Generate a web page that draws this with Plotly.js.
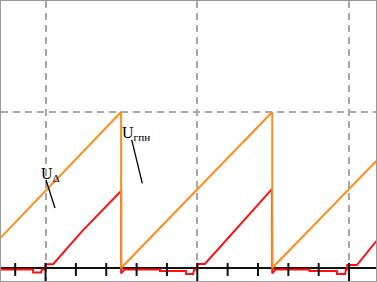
<!DOCTYPE html>
<html><head><meta charset="utf-8">
<script src="https://cdn.plot.ly/plotly-3.0.1.min.js"></script>
<style>html,body{margin:0;padding:0;background:#fff}</style>
</head><body><div id="chart" style="width:377px;height:282px"></div>
<script>
// time in tick units, value relative to ramp peak
const orangeT = [-0.5, 3.49, 3.49, 8.47, 8.47, 11.9];
const orangeV = [0.19, 1.0, 0.0, 1.0, 0.0, 0.686];

const redT = [-0.5, 0.59, 0.59, 0.85, 0.88, 1.0, 1.0, 1.25, 2.2, 3.49, 3.49, 3.6, 4.77, 4.77, 5.63, 5.63, 5.86, 5.9, 6.0, 6.0, 6.25, 7.2, 8.46, 8.47, 8.57, 9.7, 9.7, 10.6, 10.6, 10.87, 10.9, 10.94, 10.94, 11.26, 11.9];
const redV = [-0.01, -0.01, -0.029, -0.029, -0.01, -0.01, 0.024, 0.024, 0.235, 0.494, -0.035, -0.01, -0.01, -0.019, -0.019, -0.038, -0.038, -0.01, -0.01, 0.026, 0.026, 0.235, 0.506, -0.035, -0.01, -0.01, -0.019, -0.019, -0.038, -0.038, -0.01, -0.01, 0.019, 0.019, 0.173];

const minorTicks = [0, 2, 3, 4, 5, 7, 8, 9, 10];
const majorTicks = [1, 6, 11];
const gridX = [1, 6, 11];
const gridY = [1];

const labelD = "U<sub>Δ</sub>";
const labelG = "U<sub>гпн</sub>";

function segs(xs, y0, y1) {
  const X = [], Y = [];
  xs.forEach(x => { X.push(x, x, null); Y.push(y0, y1, null); });
  return {X, Y};
}
const mn = segs(minorTicks, 0.032, -0.051);
const mj = segs(majorTicks, 0.032, -0.1);

const traces = [
  {x: redT, y: redV, mode: 'lines', line: {color: '#ff1010', width: 2}, hoverinfo: 'skip'},
  {x: orangeT, y: orangeV, mode: 'lines', line: {color: '#ff8c1a', width: 2}, hoverinfo: 'skip'},
  {x: mn.X, y: mn.Y, mode: 'lines', line: {color: '#111', width: 2}, hoverinfo: 'skip'},
  {x: mj.X, y: mj.Y, mode: 'lines', line: {color: '#111', width: 2}, hoverinfo: 'skip'}
];

const layout = {
  width: 377, height: 282,
  margin: {l: 1, r: 1, t: 1, b: 1, pad: 0},
  paper_bgcolor: '#fff', plot_bgcolor: '#fff',
  showlegend: false,
  xaxis: {range: [-0.468, 11.888], tickvals: gridX, showticklabels: false, ticks: '',
    showgrid: true, gridcolor: '#a8a8a8', gridwidth: 2, griddash: '7px,5px',
    zeroline: false, showline: true, mirror: true, linecolor: '#999', linewidth: 2, fixedrange: true},
  yaxis: {range: [-0.0833, 1.712], tickvals: gridY, showticklabels: false, ticks: '',
    showgrid: true, gridcolor: '#a8a8a8', gridwidth: 2, griddash: '7px,5px',
    zeroline: true, zerolinecolor: '#111', zerolinewidth: 2,
    showline: true, mirror: true, linecolor: '#999', linewidth: 2, fixedrange: true},
  annotations: [
    {x: 0.8, y: 0.6, xref: 'x', yref: 'y', text: labelD, showarrow: false, xanchor: 'left', yanchor: 'middle',
     font: {family: 'Liberation Serif', size: 16, color: '#000'}},
    {x: 3.46, y: 0.86, xref: 'x', yref: 'y', text: labelG, showarrow: false, xanchor: 'left', yanchor: 'middle',
     font: {family: 'Liberation Serif', size: 16, color: '#000'}}
  ],
  shapes: [
    {type: 'line', xref: 'x', yref: 'y', x0: 1.015, y0: 0.564, x1: 1.311, y1: 0.385, line: {color: '#000', width: 1.3}},
    {type: 'line', xref: 'x', yref: 'y', x0: 3.839, y0: 0.821, x1: 4.188, y1: 0.543, line: {color: '#000', width: 1.3}}
  ]
};

Plotly.newPlot('chart', traces, layout, {staticPlot: true, displayModeBar: false});
</script>
</body></html>
